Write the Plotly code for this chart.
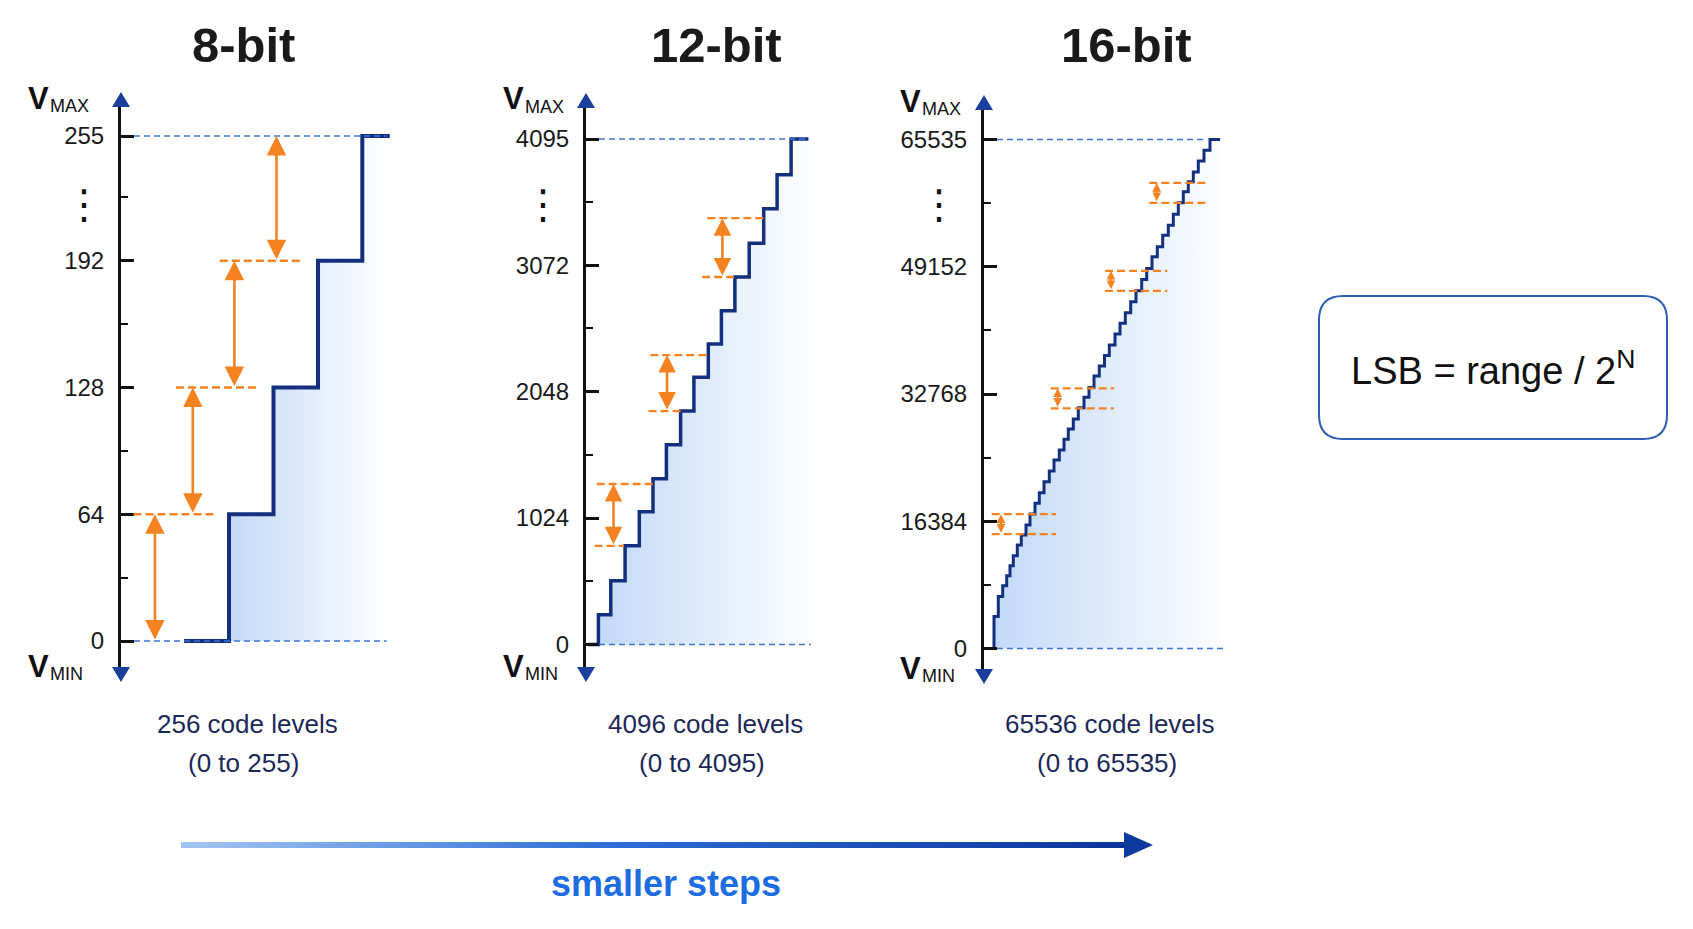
import plotly.graph_objects as go

W, H = 1693, 929
OFF = 8  # page body margin around the plot

# ---------------- data ----------------
titles = ["8-bit", "12-bit", "16-bit"]
full_scale = [255, 4095, 65535]

ticks_8 = [0, 64, 128, 192, 255]
minor_8 = [32, 96, 160, 224]
ticks_12 = [0, 1024, 2048, 3072, 4095]
minor_12 = [512, 1536, 2560, 3584]
ticks_16 = [0, 16384, 32768, 49152, 65535]
minor_16 = [8192, 24576, 40960, 57344]

levels_text = ["256 code levels", "4096 code levels", "65536 code levels"]
range_text = ["(0 to 255)", "(0 to 4095)", "(0 to 65535)"]

# staircase transfer functions: input position (arbitrary units) where the code steps, and the code
stair8_x = [63, 108, 152.5, 197, 241.3, 268.7]
stair8_y = [0, 64, 128, 192, 255, 255]

stair12_x = [2, 12.4, 24.8, 39.1, 53.3, 67, 80.4, 94.6, 107.9, 122.3, 135.4, 148.9,
             163.2, 177.7, 191.1, 205.1, 222.4]
stair12_y = [0, 240, 516, 799, 1076, 1342, 1618, 1891, 2164, 2434, 2704, 2977,
             3250, 3529, 3806, 4095, 4095]

stair16_x = [2, 10, 14.3, 18.7, 22.7, 26, 29.3, 33.3, 37.3, 42, 46, 51, 55.3, 60, 65.3,
             70, 75.3, 80, 84.3, 89.3, 94.3, 100, 105, 110, 115.3, 120.5, 125.3, 131,
             136, 141.3, 146.7, 152, 157.7, 162.7, 168, 173.3, 178.7, 184.3, 189.3,
             194.3, 199.3, 204.3, 209.3, 214.3, 220, 226, 236]
stair16_y = [0, 4117, 6690, 8066, 9353, 10639, 11926, 13341, 14627, 15914, 17329, 18706,
             20069, 21485, 22861, 24276, 25563, 26939, 28264, 29551, 31005, 32343, 33603,
             35083, 36369, 37720, 39071, 40486, 41863, 43226, 44642, 46057, 47524, 48939,
             50431, 51717, 53223, 54508, 55924, 57378, 58793, 60080, 61366, 62781, 64158,
             65535, 65535]

# LSB arrows (orange): x position, lower code, upper code
lsb8_x = [33.9, 71.8, 113.4, 155.5]
lsb8_lo = [0, 64, 128, 192]
lsb8_hi = [64, 128, 192, 255]
lsb12_x = [27.5, 81.1, 136.4]
lsb12_lo = [799, 1891, 2977]
lsb12_hi = [1300, 2345, 3454]
lsb16_x = [17, 73.7, 127, 172.7]
lsb16_lo = [14718, 30927, 46057, 57378]
lsb16_hi = [17290, 33500, 48630, 59951]

# orange dashed guide lines: code, x start, x end
guide8_y = [64, 128, 192]
guide8_x0 = [12.5, 55, 98.8]
guide8_x1 = [94.8, 136, 180.3]
guide12_y = [799, 1300, 1891, 2345, 2977, 3454]
guide12_x0 = [8.6, 10.7, 62.6, 64.3, 116.2, 121.3]
guide12_x1 = [37.8, 66.9, 94.6, 122.9, 148.1, 178.3]
guide16_y = [14718, 17290, 30927, 33500, 46057, 48630, 57378, 59951]
guide16_x0 = [7.7, 7.7, 66.7, 66.7, 121, 121, 165.3, 165.3]
guide16_x1 = [72, 72, 130, 130, 183.3, 183.3, 222.7, 222.7]

# blue dashed full-scale lines: x end of top (max) and bottom (0) line
fs_top_x1 = [265.6, 222, 223]
fs_bot_x1 = [265.6, 225, 241]

# ---------------- layout geometry (pixels of the 1693x929 window) ----------------
panels = [
    dict(ax=121, y0=641, ytop=136, tip_top=92, tip_bot=682, title_x=243, text_x=247,
         vx=26, sx=48, dots_x=84),
    dict(ax=586, y0=644.5, ytop=139, tip_top=93, tip_bot=682, title_x=716, text_x=705,
         vx=501, sx=523, dots_x=543),
    dict(ax=984, y0=648.5, ytop=139.5, tip_top=95, tip_bot=684, title_x=1126, text_x=1110,
         vx=898, sx=920, dots_x=939),
]
PANEL_W = 300
ARROW_H = 15
ARROW_HW = 9
FW, FH = W - 2 * OFF, H - 2 * OFF


def PX(x):
    return (x - OFF) / FW


def PY(y):
    return 1 - (y - OFF) / FH


stairs = [(stair8_x, stair8_y), (stair12_x, stair12_y), (stair16_x, stair16_y)]
ticks = [ticks_8, ticks_12, ticks_16]
minors = [minor_8, minor_12, minor_16]
lsb = [(lsb8_x, lsb8_lo, lsb8_hi), (lsb12_x, lsb12_lo, lsb12_hi), (lsb16_x, lsb16_lo, lsb16_hi)]
guides = [(guide8_y, guide8_x0, guide8_x1), (guide12_y, guide12_x0, guide12_x1),
          (guide16_y, guide16_x0, guide16_x1)]
grad_range = [(100, 268), (0, 235), (0, 250)]
stair_width = [4.0, 3.5, 3.0]
lsb_head = [1.5, 1.35, 0.8]
lsb_width = [2.6, 2.6, 2.2]

NAVY = "#13307e"
AXIS_BLUE = "#1a3f9c"
ORANGE = "#f58220"
DASH_BLUE = "#3b76d6"
FONT = "Liberation Sans, Arial"

fig = go.Figure()
shapes = []
annotations = []
layout_axes = {}


def note(x, y, text, size, color="#111111", xanchor="center", **kw):
    annotations.append(dict(x=PX(x), y=PY(y), xref="paper", yref="paper", text=text,
                            showarrow=False, xanchor=xanchor, yanchor="middle",
                            font=dict(family=kw.pop("family", FONT), size=size, color=color), **kw))


for i, p in enumerate(panels):
    k = i + 1
    xa = "x" if k == 1 else f"x{k}"
    ya = "y" if k == 1 else f"y{k}"
    xname = "xaxis" if k == 1 else f"xaxis{k}"
    yname = "yaxis" if k == 1 else f"yaxis{k}"
    vmax = full_scale[i]
    scale = (p["y0"] - p["ytop"]) / vmax
    line_top = p["tip_top"] + ARROW_H - 3
    line_bot = p["tip_bot"] - ARROW_H + 3
    lo = -(line_bot - p["y0"]) / scale
    hi = vmax + (p["ytop"] - line_top) / scale

    layout_axes[xname] = dict(domain=[PX(p["ax"]), PX(p["ax"] + PANEL_W)], range=[0, PANEL_W],
                              visible=False, fixedrange=True, anchor=ya)
    layout_axes[yname] = dict(
        domain=[PY(line_bot), PY(line_top)], range=[lo, hi], anchor=xa, side="left",
        showline=True, linecolor="#111111", linewidth=3, showgrid=False, zeroline=False,
        ticks="inside", ticklen=13, tickwidth=2.5, tickcolor="#111111",
        tickvals=ticks[i], ticktext=[str(v) for v in ticks[i]],
        tickfont=dict(family=FONT, size=24, color="#1a1a1a"),
        ticklabelstandoff=9,
        minor=dict(tickvals=minors[i], ticks="inside", ticklen=7, tickwidth=2.2,
                   tickcolor="#111111", showgrid=False),
        fixedrange=True, automargin=False,
    )

    sx, sy = stairs[i]
    g0, g1 = grad_range[i]
    fig.add_trace(go.Scatter(
        x=sx, y=sy, mode="lines", xaxis=xa, yaxis=ya, showlegend=False, hoverinfo="skip",
        line=dict(shape="hv", color=NAVY, width=stair_width[i]),
        fill="tozeroy",
        fillgradient=dict(type="horizontal", start=g0, stop=g1,
                          colorscale=[[0, "rgba(192,215,248,1)"], [0.45, "rgba(220,233,251,1)"],
                                      [1, "rgba(255,255,255,1)"]]),
    ))

    # blue dashed full-scale and zero lines
    for yv, x1 in ((vmax, fs_top_x1[i]), (0, fs_bot_x1[i])):
        shapes.append(dict(type="line", xref=xa, yref=ya, x0=13, x1=x1, y0=yv, y1=yv,
                           line=dict(color=DASH_BLUE, width=1.7, dash="6px,4px"), layer="above"))

    # orange dashed guides
    gy, gx0, gx1 = guides[i]
    for yv, a, b in zip(gy, gx0, gx1):
        shapes.append(dict(type="line", xref=xa, yref=ya, x0=a, x1=b, y0=yv, y1=yv,
                           line=dict(color=ORANGE, width=2.3, dash="8px,4px"), layer="above"))

    # orange LSB double arrows
    lx, llo, lhi = lsb[i]
    for xv, a, b in zip(lx, llo, lhi):
        annotations.append(dict(
            x=xv, y=b, ax=xv, ay=a, xref=xa, yref=ya, axref=xa, ayref=ya, text="",
            showarrow=True, arrowhead=2, startarrowhead=2, arrowside="end+start",
            arrowsize=lsb_head[i], startarrowsize=lsb_head[i], arrowwidth=lsb_width[i],
            arrowcolor=ORANGE, standoff=0, startstandoff=0))

    # axis arrowheads
    axp = p["ax"]
    t = p["tip_top"]
    shapes.append(dict(type="path", xref="paper", yref="paper", layer="above",
                       path=f"M{PX(axp)},{PY(t)} L{PX(axp + ARROW_HW)},{PY(t + ARROW_H)} "
                            f"L{PX(axp - ARROW_HW)},{PY(t + ARROW_H)} Z",
                       fillcolor=AXIS_BLUE, line=dict(width=0)))
    b_ = p["tip_bot"]
    shapes.append(dict(type="path", xref="paper", yref="paper", layer="above",
                       path=f"M{PX(axp)},{PY(b_)} L{PX(axp + ARROW_HW)},{PY(b_ - ARROW_H)} "
                            f"L{PX(axp - ARROW_HW)},{PY(b_ - ARROW_H)} Z",
                       fillcolor=AXIS_BLUE, line=dict(width=0)))

    # title
    note(p["title_x"], 45, f"<b>{titles[i]}</b>", 49, "#1a1a1a")
    # V_MAX / V_MIN
    note(p["vx"], p["tip_top"] + 6, "<b>V</b>", 31, xanchor="left")
    note(p["sx"], p["tip_top"] + 14, "MAX", 18, xanchor="left")
    note(p["vx"], p["tip_bot"] - 16, "<b>V</b>", 31, xanchor="left")
    note(p["sx"], p["tip_bot"] - 8, "MIN", 18, xanchor="left")
    # vertical ellipsis
    note(p["dots_x"], 204, "⋮", 40, family="DejaVu Sans")
    # code level captions
    note(p["text_x"], 724, levels_text[i], 26, "#1b2858")
    note(p["text_x"] - 3, 763, range_text[i], 26, "#1b2858")

# ---------------- overlay axis (window pixel space) for the bottom gradient arrow ----------------
layout_axes["xaxis4"] = dict(domain=[0, 1], range=[OFF, W - OFF], visible=False, fixedrange=True,
                             anchor="y4")
layout_axes["yaxis4"] = dict(domain=[0, 1], range=[H - OFF, OFF], visible=False, fixedrange=True,
                             anchor="x4")

ax_y = 845
ax_x0, ax_x1, tip = 181, 1128, 1153
fig.add_trace(go.Scatter(
    x=[ax_x0, ax_x1, ax_x1, ax_x0, ax_x0], y=[ax_y - 3, ax_y - 3, ax_y + 3, ax_y + 3, ax_y - 3],
    xaxis="x4", yaxis="y4", mode="lines", line=dict(width=0), fill="toself",
    fillgradient=dict(type="horizontal", start=ax_x0, stop=ax_x1,
                      colorscale=[[0, "rgb(165,198,242)"], [0.45, "rgb(45,110,215)"],
                                  [1, "rgb(12,52,155)"]]),
    showlegend=False, hoverinfo="skip"))
shapes.append(dict(type="path", xref="paper", yref="paper", layer="above",
                   path=f"M{PX(tip)},{PY(ax_y)} L{PX(tip - 29)},{PY(ax_y - 13)} "
                        f"L{PX(tip - 29)},{PY(ax_y + 13)} Z",
                   fillcolor="#0c3a9e", line=dict(width=0)))
note(666, 883, "<b>smaller steps</b>", 36, "rgb(28,108,226)")

# ---------------- LSB formula box ----------------
bx0, bx1, by0, by1, r = 1319, 1667, 296, 439, 24
path = (f"M{PX(bx0 + r)},{PY(by0)} L{PX(bx1 - r)},{PY(by0)} Q{PX(bx1)},{PY(by0)} {PX(bx1)},{PY(by0 + r)} "
        f"L{PX(bx1)},{PY(by1 - r)} Q{PX(bx1)},{PY(by1)} {PX(bx1 - r)},{PY(by1)} "
        f"L{PX(bx0 + r)},{PY(by1)} Q{PX(bx0)},{PY(by1)} {PX(bx0)},{PY(by1 - r)} "
        f"L{PX(bx0)},{PY(by0 + r)} Q{PX(bx0)},{PY(by0)} {PX(bx0 + r)},{PY(by0)} Z")
shapes.append(dict(type="path", xref="paper", yref="paper", path=path, layer="below",
                   fillcolor="white", line=dict(color="#2d5db4", width=2)))
note(1493, 368, "LSB = range / 2<sup>N</sup>", 38)

fig.update_layout(
    width=FW, height=FH, margin=dict(l=0, r=0, t=0, b=0),
    paper_bgcolor="white", plot_bgcolor="rgba(0,0,0,0)",
    shapes=shapes, annotations=annotations, showlegend=False,
    **layout_axes,
)
fig.write_html("out.html", config={"displayModeBar": False})
